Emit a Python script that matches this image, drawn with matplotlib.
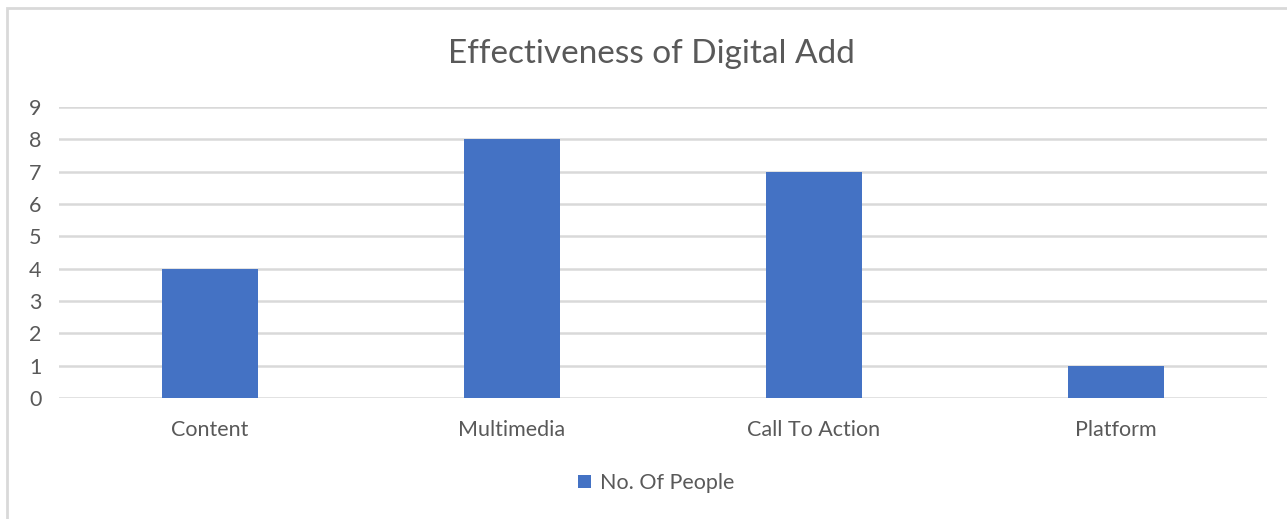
import matplotlib.pyplot as plt
from matplotlib.patches import Rectangle

# Efectividad de anuncios digitales
categorias = ['Content', 'Multimedia', 'Call To Action', 'Platform']
personas = [4, 8, 7, 1]
serie = 'No. Of People'

azul = '#4472C4'
gris_texto = '#595959'
gris_linea = '#D9D9D9'

plt.rcParams['font.family'] = ['Lato', 'DejaVu Sans']

fig = plt.figure(figsize=(12.87, 5.19), dpi=100)
W, H = 1287, 519
ax = fig.add_axes([59 / W, (H - 398) / H, (1267 - 59) / W, (398 - 107) / H])

x = range(len(categorias))
ax.bar(x, personas, width=0.315, color=azul, zorder=3, label=serie)

ax.set_xlim(-0.5, len(categorias) - 0.5)
ax.set_ylim(0, 9)
ax.set_yticks(range(0, 10))
ax.set_xticks(list(x))
ax.set_xticklabels(categorias)
ax.tick_params(axis='both', length=0, labelsize=15.5, colors=gris_texto)
ax.tick_params(axis='x', pad=16)
ax.tick_params(axis='y', pad=17)
for lbl in ax.get_yticklabels():
    lbl.set_horizontalalignment('center')

ax.grid(axis='y', color=gris_linea, linewidth=1.8, zorder=0)
for s in ax.spines.values():
    s.set_visible(False)

fig.text(651 / W, 1 - 54 / H, 'Effectiveness of Digital Add', ha='center', va='center',
         fontsize=24, color=gris_texto)

fig.legend(loc='center', bbox_to_anchor=(656 / W, 1 - 483 / H), frameon=False,
           fontsize=15.5, labelcolor=gris_texto, handlelength=0.6, handleheight=0.6,
           handletextpad=0.4)

# borde del área del gráfico
fig.patches.append(Rectangle((7 / W, -0.1), 1.2, 1 - 8 / H + 0.1, transform=fig.transFigure,
                             fill=False, edgecolor=gris_linea, linewidth=2))

fig.savefig('out.png', dpi=100)
